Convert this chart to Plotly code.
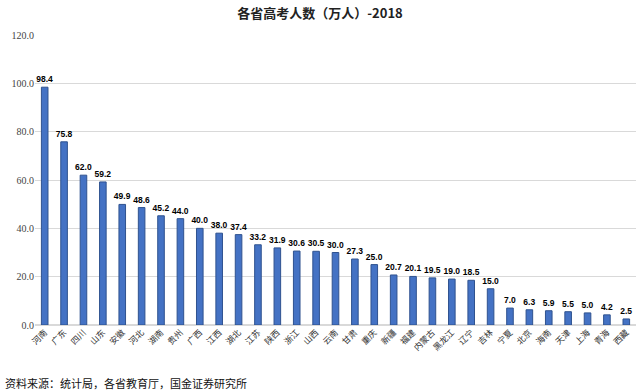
import plotly.graph_objects as go

provinces = ["河南", "广东", "四川", "山东", "安徽", "河北", "湖南", "贵州", "广西", "江西",
             "湖北", "江苏", "陕西", "浙江", "山西", "云南", "甘肃", "重庆", "新疆", "福建",
             "内蒙古", "黑龙江", "辽宁", "吉林", "宁夏", "北京", "海南", "天津", "上海", "青海", "西藏"]
examinees = [98.4, 75.8, 62.0, 59.2, 49.9, 48.6, 45.2, 44.0, 40.0, 38.0,
             37.4, 33.2, 31.9, 30.6, 30.5, 30.0, 27.3, 25.0, 20.7, 20.1,
             19.5, 19.0, 18.5, 15.0, 7.0, 6.3, 5.9, 5.5, 5.0, 4.2, 2.5]
y_ticks = [0, 20, 40, 60, 80, 100, 120]

font_cjk = "Noto Sans CJK SC"

fig = go.Figure(go.Bar(
    x=provinces, y=examinees,
    marker=dict(color="#4472C4", line=dict(color="#2F528F", width=1)),
    text=[f"{v:.1f}" for v in examinees],
    textposition="outside",
    textfont=dict(family="Liberation Sans", size=8.5, color="#000000"),
    texttemplate="<b>%{text}</b>",
    cliponaxis=False,
))

fig.update_layout(
    width=640, height=392,
    margin=dict(l=35, r=4, t=35, b=67),
    paper_bgcolor="white", plot_bgcolor="white",
    bargap=0.66,
    showlegend=False,
    uniformtext=dict(minsize=8, mode="show"),
    title=dict(text="<b>各省高考人数（万人）-2018</b>", x=0.5, xanchor="center",
               y=0.965, yanchor="middle",
               font=dict(family=font_cjk, size=13, color="#222222")),
    font=dict(family=font_cjk),
)
fig.update_yaxes(range=[0, 120], tickvals=y_ticks, automargin=False,
                 ticktext=[f"{v:.1f}" for v in y_ticks],
                 showgrid=True, gridcolor="#D9D9D9", gridwidth=1,
                 zeroline=True, zerolinecolor="#D9D9D9",
                 tickfont=dict(family="Liberation Serif", size=10, color="#444444"),
                 ticks="", showline=False)
fig.update_xaxes(tickangle=-45, automargin=False,
                 tickfont=dict(family=font_cjk, size=8.5, color="#333333"),
                 showline=False, ticks="")

fig.add_annotation(text="资料来源：统计局，各省教育厅，国金证券研究所",
                   xref="paper", yref="paper", x=-0.053, y=-0.2, xanchor="left", yanchor="middle",
                   showarrow=False,
                   font=dict(family=font_cjk, size=11, color="#111111"))

fig.write_html("out.html", config={"displayModeBar": False},
               post_script="document.body.style.margin='0';")
